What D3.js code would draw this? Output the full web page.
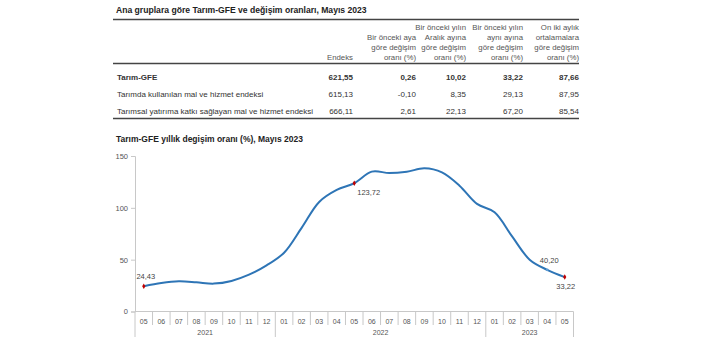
<!DOCTYPE html>
<html lang="tr">
<head>
<meta charset="UTF-8">
<title>Tarım-GFE</title>
<script src="https://d3js.org/d3.v7.min.js"></script>
<style>
  body { margin: 0; background: #fff; }
  svg { font-family: "Liberation Sans", Arial, sans-serif; }
</style>
</head>
<body>
<svg id="chart" width="702" height="351"></svg>
<script>
// ---- table data ----
var tableTitle = "Ana gruplara göre Tarım-GFE ve değişim oranları, Mayıs 2023";
var colHeaders = [
  ["Endeks"],
  ["Bir önceki aya", "göre değişim", "oranı (%)"],
  ["Bir önceki yılın", "Aralık ayına", "göre değişim", "oranı (%)"],
  ["Bir önceki yılın", "aynı ayına", "göre değişim", "oranı (%)"],
  ["On iki aylık", "ortalamalara", "göre değişim", "oranı (%)"]
];
var rowLabels = [
  "Tarım-GFE",
  "Tarımda kullanılan mal ve hizmet endeksi",
  "Tarımsal yatırıma katkı sağlayan mal ve hizmet endeksi"
];
var rowValues = [
  ["621,55", "0,26", "10,02", "33,22", "87,66"],
  ["615,13", "-0,10", "8,35", "29,13", "87,95"],
  ["666,11", "2,61", "22,13", "67,20", "85,54"]
];

// ---- chart data ----
var chartTitle = "Tarım-GFE yıllık degişim oranı (%), Mayıs 2023";
var months = ["2021-05","2021-06","2021-07","2021-08","2021-09","2021-10","2021-11","2021-12",
              "2022-01","2022-02","2022-03","2022-04","2022-05","2022-06","2022-07","2022-08",
              "2022-09","2022-10","2022-11","2022-12","2023-01","2023-02","2023-03","2023-04","2023-05"];
var values = [24.43, 27.5, 29.1, 28.2, 26.9, 29.5, 35.5, 44.5,
              56.7, 80.7, 105.7, 117.3, 123.72, 134.9, 133.6, 134.9,
              138.1, 134.2, 121.4, 103.8, 95.8, 72.4, 50.0, 40.20, 33.22];
var years = ["2021", "2022", "2023"];
var yTicks = [0, 50, 100, 150];
var labelled = [
  {month: "2021-05", text: "24,43", pos: "above", marker: true},
  {month: "2022-05", text: "123,72", pos: "belowRight", marker: true},
  {month: "2023-04", text: "40,20", pos: "above", marker: false},
  {month: "2023-05", text: "33,22", pos: "below", marker: true}
];

var svg = d3.select("#chart");
var textCol = "#333";

// ---- table ----
var tLeft = 113, tRight = 579;
var colRight = [353, 416, 466, 523, 579];
svg.append("text").attr("x", 116).attr("y", 13)
  .attr("font-size", 8.6).attr("font-weight", "bold").attr("fill", "#222")
  .text(tableTitle);
[19.5, 63.5, 118.5].forEach(function(ly) {
  svg.append("line").attr("x1", tLeft).attr("x2", tRight).attr("y1", ly).attr("y2", ly)
    .attr("stroke", "#444").attr("stroke-width", 1.3);
});

colHeaders.forEach(function(lines, c) {
  lines.forEach(function(l, i) {
    svg.append("text")
      .attr("x", colRight[c]).attr("y", 60 - (lines.length - 1 - i) * 10)
      .attr("text-anchor", "end").attr("font-size", 7.8).attr("fill", "#555")
      .text(l);
  });
});

var rowY = [79.5, 97, 114];
rowLabels.forEach(function(lbl, r) {
  var bold = r === 0 ? "bold" : "normal";
  svg.append("text").attr("x", 117).attr("y", rowY[r])
    .attr("font-size", 8).attr("font-weight", bold).attr("fill", textCol).text(lbl);
  rowValues[r].forEach(function(v, c) {
    svg.append("text").attr("x", colRight[c]).attr("y", rowY[r])
      .attr("text-anchor", "end").attr("font-size", 8).attr("font-weight", bold)
      .attr("fill", textCol).text(v);
  });
});

// ---- chart ----
svg.append("text").attr("x", 116).attr("y", 142)
  .attr("font-size", 8.5).attr("font-weight", "bold").attr("fill", "#222")
  .text(chartTitle);

var x0 = 135, x1 = 573.5, yTop = 156, yBot = 311.5;
var x = d3.scaleBand().domain(months).range([x0, x1]).padding(0);
var y = d3.scaleLinear().domain([0, 150]).range([yBot, yTop]);
var gridCol = "#c8c8c8";

// y axis
var yAxis = svg.append("g").attr("transform", "translate(" + x0 + ",0)")
  .call(d3.axisLeft(y).tickValues(yTicks).tickSize(4).tickPadding(3));
yAxis.select(".domain").attr("stroke", gridCol);
yAxis.selectAll(".tick line").attr("stroke", gridCol);
yAxis.selectAll(".tick text").attr("font-size", 7.5).attr("fill", "#555")
  .attr("font-family", "Liberation Sans, Arial, sans-serif");

// x axis (two level)
svg.append("line").attr("x1", x0).attr("x2", x1).attr("y1", yBot).attr("y2", yBot)
  .attr("stroke", gridCol);
months.forEach(function(m, i) {
  var yearStart = i === 0 || m.slice(5) === "01";
  svg.append("line")
    .attr("x1", x(m)).attr("x2", x(m)).attr("y1", yBot)
    .attr("y2", yearStart ? 337 : 325)
    .attr("stroke", gridCol);
  svg.append("text").attr("x", x(m) + x.bandwidth() / 2).attr("y", 323.5)
    .attr("text-anchor", "middle").attr("font-size", 7).attr("fill", "#555")
    .text(m.slice(5));
});
svg.append("line").attr("x1", x1).attr("x2", x1).attr("y1", yBot).attr("y2", 337)
  .attr("stroke", gridCol);
years.forEach(function(yr) {
  var ms = months.filter(function(m) { return m.slice(0, 4) === yr; });
  var cx = (x(ms[0]) + x(ms[ms.length - 1]) + x.bandwidth()) / 2;
  svg.append("text").attr("x", cx).attr("y", 335)
    .attr("text-anchor", "middle").attr("font-size", 7).attr("fill", "#555").text(yr);
});

// line
var line = d3.line()
  .x(function(d, i) { return x(months[i]) + x.bandwidth() / 2; })
  .y(function(d) { return y(d); })
  .curve(d3.curveCatmullRom.alpha(0.5));
svg.append("path").datum(values).attr("d", line)
  .attr("fill", "none").attr("stroke", "#2e75b6").attr("stroke-width", 2);

// labelled points
labelled.forEach(function(p) {
  var i = months.indexOf(p.month);
  var px = x(p.month) + x.bandwidth() / 2, py = y(values[i]);
  if (p.marker) {
    svg.append("path").attr("d", d3.symbol().type(d3.symbolDiamond).size(9)())
      .attr("transform", "translate(" + px + "," + py + ")").attr("fill", "#c00000");
  } else {
    svg.append("circle").attr("cx", px).attr("cy", py).attr("r", 1.3).attr("fill", "#5b9bd5");
  }
  var t = svg.append("text").attr("font-size", 7.5).attr("fill", "#444").text(p.text);
  if (p.pos === "above") t.attr("x", px + 2).attr("y", py - 7).attr("text-anchor", "middle");
  if (p.pos === "belowRight") t.attr("x", px + 3).attr("y", py + 12).attr("text-anchor", "start");
  if (p.pos === "below") t.attr("x", px + 1).attr("y", py + 12).attr("text-anchor", "middle");
});
</script>
</body>
</html>
